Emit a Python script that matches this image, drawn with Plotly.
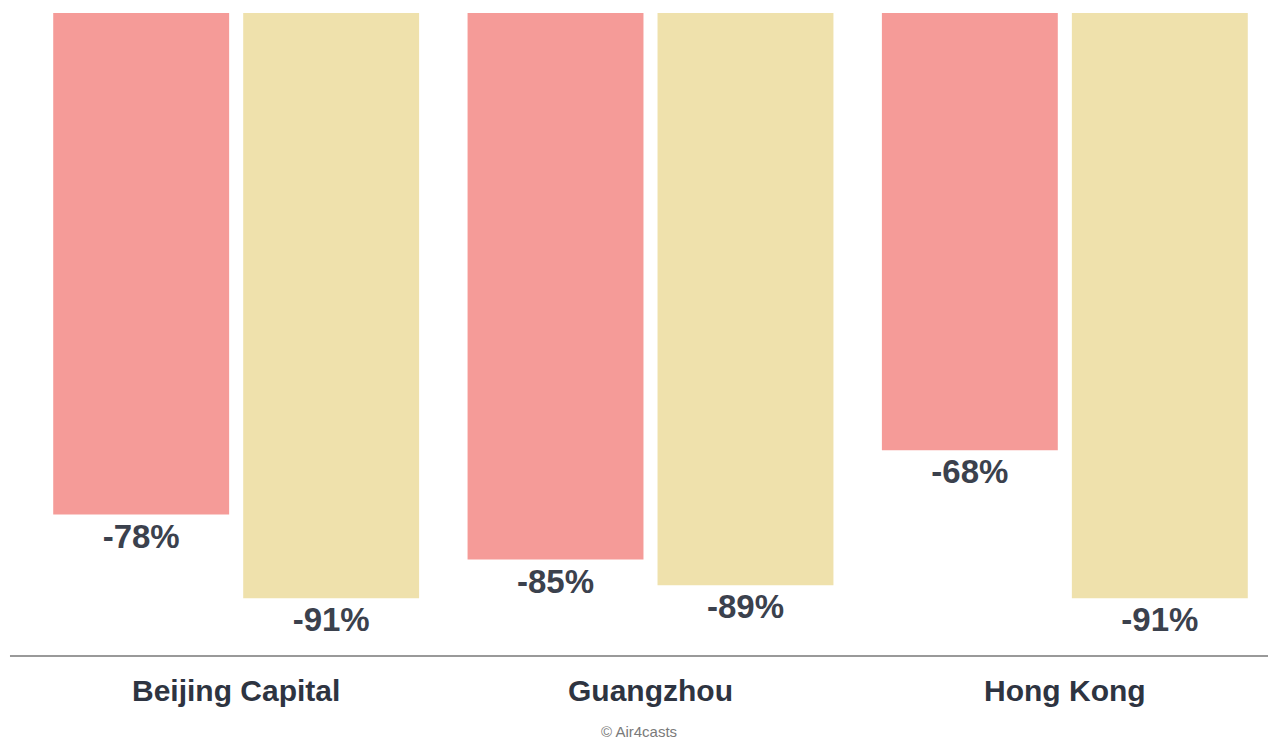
import plotly.graph_objects as go

airports = ["Beijing Capital", "Guangzhou", "Hong Kong"]
series_a = [-78, -85, -68]
series_b = [-91, -89, -91]
labels_a = ["-78%", "-85%", "-68%"]
labels_b = ["-91%", "-89%", "-91%"]

pink = "#F59B98"
yellow = "#EFE1AC"
val_color = "#3B414D"
cat_color = "#2E3441"

fig = go.Figure()
for vals, labs, col in [(series_a, labels_a, pink), (series_b, labels_b, yellow)]:
    fig.add_trace(go.Bar(
        x=airports, y=vals, text=labs, textposition="outside",
        textfont=dict(family="Liberation Sans, Arial, sans-serif", size=33,
                      color=val_color, weight="bold"),
        marker=dict(color=col, line=dict(width=0)),
        cliponaxis=False, showlegend=False, hoverinfo="skip",
    ))

fig.update_layout(
    width=1276, height=740,
    barmode="group", bargap=0.083, bargroupgap=0.074,
    margin=dict(l=21, r=12, t=5, b=92),
    paper_bgcolor="white", plot_bgcolor="white",
    xaxis=dict(showgrid=False, showline=False, ticks="", ticklabelstandoff=14,
               tickfont=dict(family="Liberation Sans, Arial, sans-serif", size=30,
                             color=cat_color, weight="bold")),
    yaxis=dict(range=[-100, 0], showgrid=False, zeroline=False, showline=False,
               showticklabels=False, ticks=""),
    shapes=[dict(type="line", xref="paper", yref="paper", x0=-0.0153, x1=1.003,
                 y0=0, y1=0, line=dict(color="#999999", width=2))],
    annotations=[dict(text="© Air4casts", xref="paper", yref="paper", x=0.491, y=0,
                      yshift=-86, showarrow=False,
                      font=dict(family="Liberation Sans, Arial, sans-serif", size=15,
                                color="#7a7a7a"))],
)

fig.write_html("out.html")
